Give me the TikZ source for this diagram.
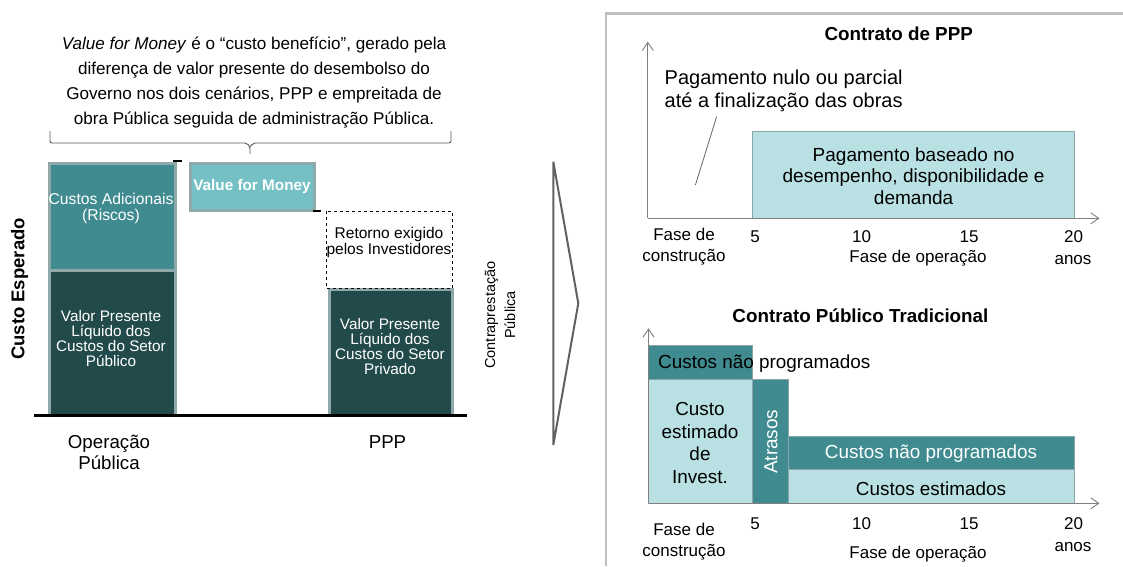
\documentclass[tikz,border=0pt]{standalone}
\usepackage{fontspec}
\setmainfont{Liberation Sans}
\usetikzlibrary{arrows.meta}
\definecolor{darkteal}{HTML}{234A4B}
\definecolor{midteal}{HTML}{3F8B90}
\definecolor{vfmteal}{HTML}{74C0C5}
\definecolor{paleteal}{HTML}{B9E1E4}
\definecolor{barline}{HTML}{8FA9AB}
\definecolor{boxline}{HTML}{8AA6A8}
\definecolor{axisgray}{HTML}{808080}
\definecolor{framegray}{HTML}{BFBFBF}
\newcommand{\fsz}[2]{\fontsize{#1}{#2}\selectfont}
\begin{document}
\begin{tikzpicture}[x=1pt,y=-1pt]
            \tikzstyle{every node}+=[inner sep=0pt]
            \tikzstyle{barbox}=[draw=barline, line width=3pt]
            \tikzstyle{chartbox}=[draw=boxline, line width=0.8pt]
            \tikzstyle{axisline}=[draw=axisgray, line width=0.9pt, -{Straight Barb[length=8pt,width=11pt]}]
            \tikzstyle{wtext}=[text=white, align=center]
            \useasboundingbox (0,0) rectangle (1123,566);
            % left: value for money
            \node (vfmnote) [align=center, font=\fsz{17.1}{25}] at (254,83) {\textit{Value for Money} é o “custo benefício”, gerado pela\\diferença de valor presente do desembolso do\\Governo nos dois cenários, PPP e empreitada de\\obra Pública seguida de administração Pública.};
            \draw [black!65, line width=0.9pt, rounded corners=2pt] (50,131) -- (50,143) -- (247,143) -- (250,147) -- (250,154);
            \draw [black!65, line width=0.9pt, rounded corners=2pt] (250,147) -- (253,143) -- (451,143) -- (451,131);
            \draw [barbox, fill=midteal] (49.5,163.2) rectangle (175.5,270);
            \draw [barbox, fill=darkteal] (49.5,270) rectangle (175.5,415);
            \draw [barbox, fill=vfmteal] (190.5,163.5) rectangle (314.5,210.5);
            \draw [barbox, fill=darkteal] (329.5,289.5) rectangle (452.5,415);
            \draw [black, dashed, line width=0.9pt] (326,211) rectangle (452,288.5);
            \draw [black, line width=1.2pt] (173,161) -- (182,161);
            \draw [black, line width=1.2pt] (313,211) -- (321,211);
            \draw [black, line width=3.3pt] (34,415.7) -- (467,415.7);
            \node (riscos) [wtext, font=\fsz{15.7}{16}] at (111,208) {Custos Adicionais\\(Riscos)};
            \node (vplpub) [wtext, font=\fsz{15.3}{15}] at (111,339) {Valor Presente\\Líquido dos\\Custos do Setor\\Público};
            \node (vplpriv) [wtext, font=\fsz{15.3}{15}] at (390,347) {Valor Presente\\Líquido dos\\Custos do Setor\\Privado};
            \node (vfm) [wtext, font=\bfseries\fsz{15.3}{16}] at (252,187) {Value for Money};
            \node (retorno) [align=center, font=\fsz{15.5}{16}] at (389,242) {Retorno exigido\\pelos Investidores};
            \node (custoesp) [rotate=90, font=\bfseries\fsz{18.5}{20}] at (19.6,289) {Custo Esperado};
            \node (oppub) [align=center, font=\fsz{18.7}{21.6}] at (109,452.5) {Operação\\Pública};
            \node (ppp) [font=\fsz{18.7}{21.6}] at (387.5,441.7) {PPP};
            \node (contrap) [rotate=90, align=center, font=\fsz{14.5}{20}] at (500,315) {Contraprestação\\Pública};
            % chevron and frame
            \draw [black!62, line width=2pt, line join=miter] (553.3,161.7) -- (578.3,303.3) -- (553.3,445) -- cycle;
            \draw [framegray, line width=2.5pt] (606,566) -- (606,13.3) -- (1123,13.3);
            % contrato de PPP
            \node (titppp) [font=\bfseries\fsz{18.8}{22}] at (898.7,33.3) {Contrato de PPP};
            \coordinate (o1) at (647.8,218.3);
            \coordinate (y1) at (647.8,41.7);
            \coordinate (x1) at (1099.5,218.3);
            \draw [chartbox, fill=paleteal] (752,131) rectangle (1074.6,218.3);
            \draw [axisline] (o1) -- (y1);
            \draw [axisline] (o1) -- (x1);
            \node (nulo) [anchor=west, align=left, font=\fsz{20}{23.7}] at (664.5,91) {Pagamento nulo ou parcial\\até a finalização das obras};
            \coordinate (lda) at (716.6,116.7);
            \coordinate (ldb) at (695.4,185);
            \draw [black!60, line width=0.8pt] (lda) -- (ldb);
            \node (desemp) [align=center, font=\fsz{19}{21.7}] at (913.6,176) {Pagamento baseado no\\desempenho, disponibilidade e\\demanda};
            \node (fc1) [align=center, font=\fsz{17}{21}] at (684,247) {Fase de\\construção};
            \node (n5a) [font=\fsz{17}{21}] at (755,236.7) {5};
            \node (n10a) [font=\fsz{17}{21}] at (861.6,236.7) {10};
            \node (n15a) [font=\fsz{17}{21}] at (969,236.7) {15};
            \node (n20a) [font=\fsz{17}{21}] at (1073.5,236.7) {20};
            \node (fo1) [font=\fsz{17}{21}] at (918,257.7) {Fase de operação};
            \node (anos1) [font=\fsz{17}{21}] at (1073,260) {anos};
            % contrato publico tradicional
            \node (tittrad) [font=\bfseries\fsz{18.8}{22}] at (860.4,316) {Contrato Público Tradicional};
            \coordinate (o2) at (648.5,503.3);
            \coordinate (y2) at (648.5,328.3);
            \coordinate (x2) at (1099.5,503.3);
            \draw [chartbox, fill=midteal] (648.5,345.7) rectangle (752.6,379.3);
            \draw [chartbox, fill=paleteal] (648.5,379.3) rectangle (752.6,503.3);
            \draw [chartbox, fill=midteal] (752.6,379.3) rectangle (788,503.3);
            \draw [chartbox, fill=midteal] (788,436) rectangle (1074.6,469.3);
            \draw [chartbox, fill=paleteal] (788,469.3) rectangle (1074.6,503.3);
            \draw [axisline] (o2) -- (y2);
            \draw [axisline] (o2) -- (x2);
            \node (naoprog1) [anchor=west, font=\fsz{18.9}{22}] at (658,363.3) {Custos não programados};
            \node (estinv) [align=center, font=\fsz{18.9}{22.5}] at (700,443) {Custo\\estimado\\de\\Invest.};
            \node (atrasos) [rotate=90, wtext, font=\fsz{19}{22}] at (771,441.7) {Atrasos};
            \node (naoprog2) [wtext, font=\fsz{18.9}{22}] at (931,454) {Custos não programados};
            \node (estim) [font=\fsz{18.9}{22}] at (931,489) {Custos estimados};
            \node (fc2) [align=center, font=\fsz{17}{21}] at (684,541.5) {Fase de\\construção};
            \node (n5b) [font=\fsz{17}{21}] at (755,523.3) {5};
            \node (n10b) [font=\fsz{17}{21}] at (861.6,523.3) {10};
            \node (n15b) [font=\fsz{17}{21}] at (969,523.3) {15};
            \node (n20b) [font=\fsz{17}{21}] at (1073.5,523.3) {20};
            \node (fo2) [font=\fsz{17}{21}] at (918,554.3) {Fase de operação};
            \node (anos2) [font=\fsz{17}{21}] at (1073,546.7) {anos};
        \end{tikzpicture}
\end{document}
